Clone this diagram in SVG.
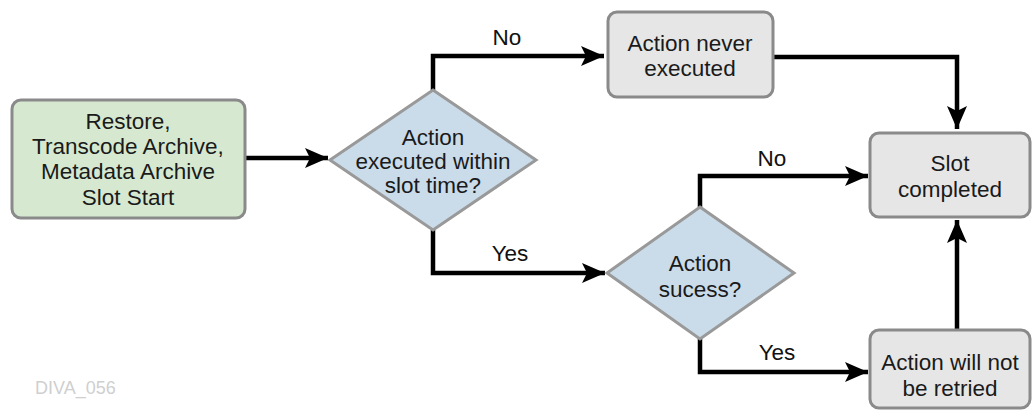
<svg xmlns="http://www.w3.org/2000/svg" width="1034" height="411" viewBox="0 0 1034 411">
<style>
text{font-family:"Liberation Sans",Arial,sans-serif;font-size:22.5px;fill:#1a1a1a;text-anchor:middle}
.box{stroke:#8a8a8a;stroke-width:3}
.start{fill:#d6e9d0}
.proc{fill:#e6e6e6}
.dec{fill:#cadcea;stroke:#999;stroke-width:3}
.con{fill:none;stroke:#000;stroke-width:4.5}
.lbl{fill:#111}
.wm{fill:#cfcfcf;font-size:18px;text-anchor:start}
</style>
<defs>
<marker id="ah" markerWidth="24" markerHeight="22" refX="23" refY="11" orient="auto" markerUnits="userSpaceOnUse">
<path d="M0,1 L23,11 L0,21 L5,11 Z" fill="#000"/>
</marker>
</defs>
<g id="connectors">
<path class="con" d="M246,158 L328,158" marker-end="url(#ah)"/>
<path class="con" d="M433,90 L433,56 L604,56" marker-end="url(#ah)"/>
<path class="con" d="M433,230 L433,273 L605,273" marker-end="url(#ah)"/>
<path class="con" d="M774,57 L957,57 L957,129" marker-end="url(#ah)"/>
<path class="con" d="M700,207 L700,176 L868,176" marker-end="url(#ah)"/>
<path class="con" d="M700,338 L700,372 L868,372" marker-end="url(#ah)"/>
<path class="con" d="M957,330 L957,220" marker-end="url(#ah)"/>
<text class="lbl" x="507" y="45">No</text>
<text class="lbl" x="772" y="166">No</text>
<text class="lbl" x="510" y="261">Yes</text>
<text class="lbl" x="777" y="360">Yes</text>
</g>
<g id="start">
<rect class="box start" x="12" y="100" width="233" height="118" rx="9"/>
<text x="128" y="129">Restore,</text>
<text x="128" y="154">Transcode Archive,</text>
<text x="128" y="179">Metadata Archive</text>
<text x="128" y="205">Slot Start</text>
</g>
<g id="decision1">
<polygon class="dec" points="433,90 536,160 433,230 330,160"/>
<text x="433" y="145">Action</text>
<text x="433" y="169">executed within</text>
<text x="433" y="193">slot time?</text>
</g>
<g id="never">
<rect class="box proc" x="608" y="12" width="165" height="85" rx="9"/>
<text x="690" y="51">Action never</text>
<text x="690" y="76">executed</text>
</g>
<g id="decision2">
<polygon class="dec" points="700,207 794,273 700,339 607,273"/>
<text x="700" y="271">Action</text>
<text x="700" y="297">sucess?</text>
</g>
<g id="completed">
<rect class="box proc" x="870" y="133" width="160" height="84" rx="9"/>
<text x="950" y="171">Slot</text>
<text x="950" y="197">completed</text>
</g>
<g id="retried">
<rect class="box proc" x="870" y="330" width="160" height="78" rx="9"/>
<text x="950" y="370">Action will not</text>
<text x="950" y="396">be retried</text>
</g>
<text class="wm" x="35" y="394">DIVA_056</text>
</svg>
